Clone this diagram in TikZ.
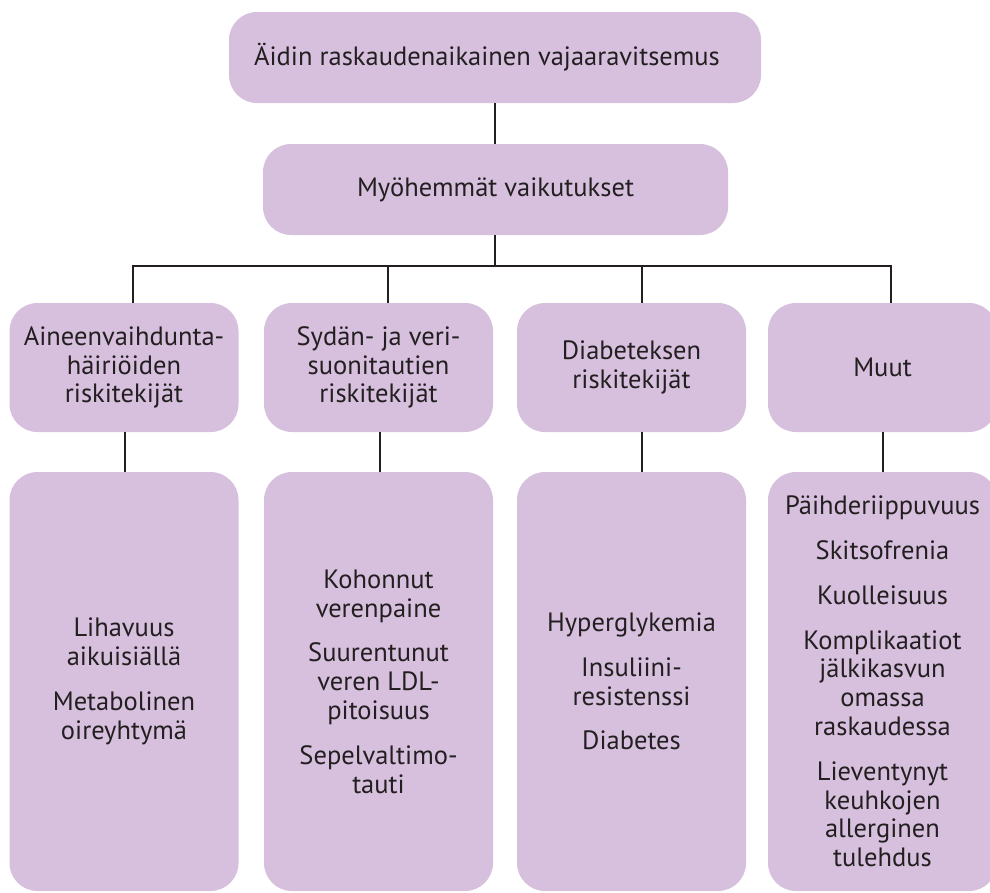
\documentclass[tikz,border=0pt]{standalone}
\usepackage{fontspec}
\setmainfont{PT Sans}
\definecolor{boxfill}{RGB}{215,192,222}
\definecolor{ink}{RGB}{35,31,32}
\tikzset{
  box/.style={rectangle, rounded corners=28pt, fill=boxfill, draw=none, align=center,
    text=ink, font=\fontsize{26.5}{28.8}\selectfont, inner sep=0pt},
  catbox/.style={box, minimum width=229pt, minimum height=129pt},
  detbox/.style={box, minimum width=229pt, minimum height=419pt},
  headbox/.style={box, font=\fontsize{26.5}{30}\selectfont},
  link/.style={draw=ink, line width=2.7pt},
}
\begin{document}
\begin{tikzpicture}[x=1pt,y=-1pt]
\useasboundingbox (0,0) rectangle (990,892);
\fill[white] (0,0) rectangle (990,892);

\node[headbox, minimum width=532pt, minimum height=91pt] (top) at (495,57.5)
  {Äidin raskaudenaikainen vajaaravitsemus\hspace*{16pt}};
\node[headbox, minimum width=465pt, minimum height=91pt] (mid) at (495.5,189.5)
  {Myöhemmät vaikutukset};

\node[catbox] (c1) at (124,367.5) {Aineenvaihdunta-\\häiriöiden\\riskitekijät};
\node[catbox] (c2) at (378.5,367.5) {Sydän- ja veri-\\suonitautien\\riskitekijät};
\node[catbox] (c3) at (631.5,367.5) {Diabeteksen\\riskitekijät};
\node[catbox] (c4) at (882.5,367.5) {Muut};

\node[detbox] (d1) at (124,681.5) {Lihavuus\\aikuisiällä\\[16pt]Metabolinen\\oireyhtymä};
\node[detbox] (d2) at (378.5,681.5) {Kohonnut\\verenpaine\\[16pt]Suurentunut\\veren LDL-\\pitoisuus\\[16pt]Sepelvaltimo-\\tauti};
\node[detbox] (d3) at (631.5,681.5) {Hyperglykemia\\[16pt]Insuliini-\\resistenssi\\[16pt]Diabetes};
\node[detbox] (d4) at (882.5,681.5) {Päihderiippuvuus\\[16pt]Skitsofrenia\\[16pt]Kuolleisuus\\[16pt]Komplikaatiot\\jälkikasvun\\omassa\\raskaudessa\\[16pt]Lieventynyt\\keuhkojen\\allerginen\\tulehdus};

\coordinate (bus) at (495,266);
\coordinate (b1) at (133,266);
\coordinate (b2) at (388,266);
\coordinate (b3) at (642,266);
\coordinate (b4) at (891,266);

\draw[link] (top.south -| bus) -- (mid.north -| bus);
\draw[link] (mid.south -| bus) -- (bus);
\draw[link] ([xshift=-1.35pt]b1) -- ([xshift=1.35pt]b4);
\draw[link] (b1) -- (b1 |- c1.north);
\draw[link] (b2) -- (b2 |- c2.north);
\draw[link] (b3) -- (b3 |- c3.north);
\draw[link] (b4) -- (b4 |- c4.north);

\draw[link] ([xshift=1pt]c1.south) -- ([xshift=1pt]d1.north);
\draw[link] ([xshift=1.5pt]c2.south) -- ([xshift=1.5pt]d2.north);
\draw[link] ([xshift=10.5pt]c3.south) -- ([xshift=10.5pt]d3.north);
\draw[link] ([xshift=0.5pt]c4.south) -- ([xshift=0.5pt]d4.north);
\end{tikzpicture}
\end{document}
